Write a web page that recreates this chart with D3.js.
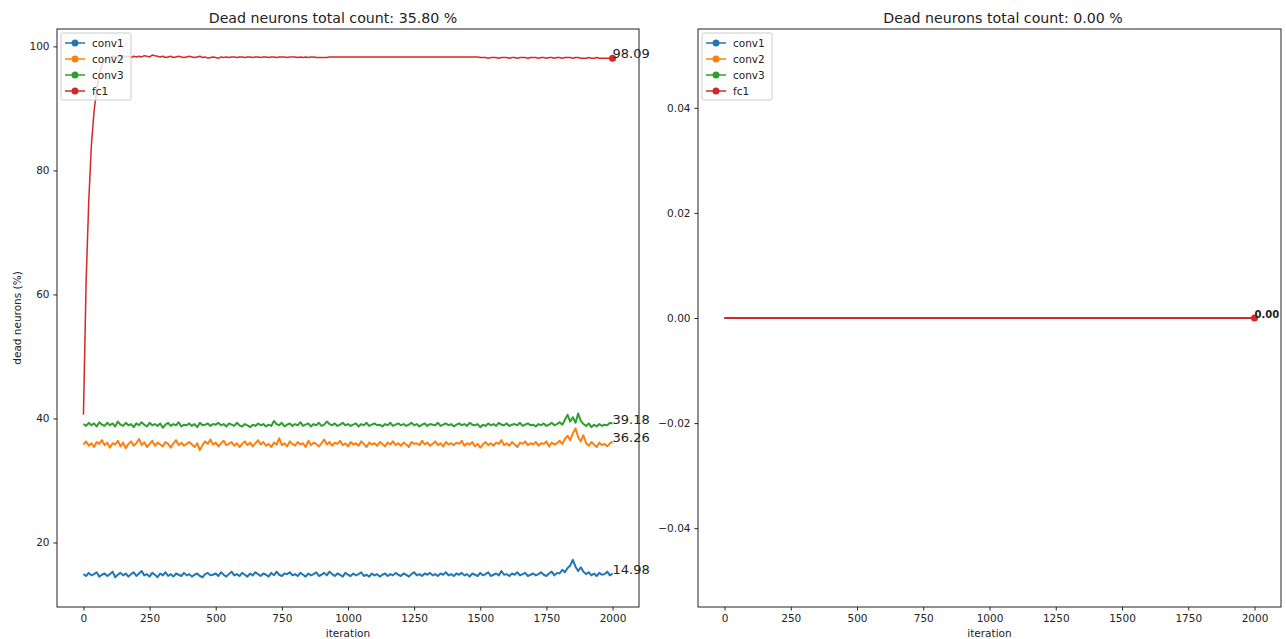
<!DOCTYPE html>
<html>
<head>
<meta charset="utf-8">
<script src="https://cdn.jsdelivr.net/npm/d3@7"></script>
<style>
  html, body { margin: 0; padding: 0; background: #fff; }
  svg { display: block; font-family: "DejaVu Sans", sans-serif; }
</style>
</head>
<body>
<svg id="chart" width="1286" height="639"></svg>
<script>
// Sampled iterations (every 10 steps) for the first run
const iterations = d3.range(0, 2001, 10);

const conv1 = [
  14.9, 14.6, 15.1, 14.7, 14.9, 15.2, 14.5, 14.8, 15.0, 14.6,
  14.9, 15.3, 14.4, 14.8, 15.1, 14.7, 15.0, 14.5, 14.9, 15.2,
  14.6, 15.0, 15.4, 14.7, 14.9, 14.5, 15.1, 14.8, 14.4, 15.0,
  14.7, 15.2, 14.6, 14.9, 14.5, 15.0, 14.8, 14.6, 15.1, 14.7,
  14.9, 14.5, 14.8, 15.0, 14.6, 14.4, 14.9, 15.1, 14.7, 14.8,
  15.0, 14.6, 15.2, 14.8, 14.5, 14.9, 15.3, 14.7, 14.9, 14.6,
  15.1, 14.8, 14.5, 15.0, 14.7, 15.2, 14.9, 14.6, 15.0, 14.8,
  14.5, 15.1, 14.7, 15.3, 14.8, 14.6, 15.0, 14.9, 15.2, 14.7,
  14.9, 14.6, 15.1, 14.8, 14.5, 15.0, 14.7, 14.9, 15.2, 14.6,
  14.8, 15.1, 14.7, 15.3, 14.9, 14.6, 15.0, 14.8, 14.5, 15.1,
  14.8, 14.6, 15.0, 14.7, 14.9, 15.2, 14.6, 14.8, 14.5, 15.0,
  14.7, 14.9, 14.5, 14.8, 15.0, 14.6, 14.9, 14.7, 15.1, 14.8,
  14.6, 15.0, 14.8, 14.5, 14.9, 15.2, 14.7, 14.9, 14.6, 15.0,
  14.8, 15.1, 14.7, 14.9, 14.6, 15.0, 14.8, 15.2, 14.7, 14.9,
  14.6, 15.0, 14.8, 15.1, 14.7, 14.9, 14.5, 15.0, 14.8, 14.6,
  15.1, 14.7, 14.9, 15.2, 14.6, 14.8, 15.0, 14.7, 15.4, 14.8,
  14.9, 14.6, 15.0, 14.8, 15.2, 14.7, 14.9, 15.1, 14.6, 14.8,
  15.0, 14.7, 14.9, 15.2, 14.8, 14.6, 15.0, 15.3, 14.7, 15.1,
  15.0, 15.6, 15.2, 15.9, 16.3, 17.2, 16.1, 15.4, 16.0, 15.3,
  14.9, 15.2, 14.7, 15.0, 14.6, 15.1, 14.8, 14.9, 15.3, 14.7,
  14.98
];

const conv2 = [
  35.8, 36.3, 35.6, 36.0, 35.4, 36.2, 35.9, 36.5, 35.7, 36.1,
  35.3, 36.0, 35.8, 36.4, 35.5, 36.1, 35.2, 35.9, 36.3, 35.6,
  36.0, 36.7, 35.7, 36.2, 35.4, 35.9, 36.4, 35.6, 36.1, 35.8,
  35.5, 36.2, 35.9, 35.3, 36.0, 36.5, 35.7, 36.1, 35.6, 35.9,
  36.2, 35.8, 35.4, 36.0, 34.9, 35.7, 36.3, 35.9, 36.6, 35.8,
  36.1, 35.5, 36.0, 36.4, 35.7, 35.9, 36.2, 35.6, 36.0, 35.4,
  35.9, 36.3, 35.7, 36.1, 35.5, 36.0, 36.5, 35.8, 36.2, 35.6,
  35.9, 35.4, 36.1, 35.8, 36.8, 35.7, 36.0, 35.5, 36.3, 35.9,
  35.6, 36.2, 35.8, 36.0, 35.4, 36.4, 35.7, 36.1, 35.9, 35.5,
  36.0, 36.6, 35.8, 36.2, 35.6, 36.1, 35.9, 36.4, 35.7, 36.0,
  35.5, 36.2, 35.8, 36.0, 35.6, 36.3, 35.9, 35.4, 36.1, 35.8,
  36.0, 35.6, 36.2, 35.9, 35.5, 36.1, 35.8, 36.3, 35.7, 36.0,
  35.6, 36.1, 35.8, 35.4, 36.2, 35.9, 36.0, 35.7, 36.4, 35.8,
  36.1, 35.6, 35.9, 36.3, 35.7, 36.0, 35.5, 36.2, 35.8, 36.0,
  35.7, 36.1, 35.9, 36.4, 35.6, 36.0, 35.8, 36.2, 35.5, 35.9,
  35.3, 35.8, 36.2, 35.7, 36.0, 35.6, 36.1, 35.9, 36.5, 35.7,
  36.0, 35.6, 36.2, 35.8, 35.4, 36.1, 35.9, 36.3, 35.7, 36.0,
  35.8, 36.2, 35.6, 36.0, 35.9, 36.3, 35.5, 36.1, 35.8, 36.0,
  36.4, 35.9, 36.7, 37.2, 36.5, 37.6, 38.4, 37.0, 36.3, 37.3,
  36.0, 35.6, 36.2, 35.8, 35.4, 36.1, 35.7, 35.9, 35.5, 36.0,
  36.26
];

const conv3 = [
  39.1, 38.8, 39.3, 38.9, 39.2, 38.7, 39.4, 39.0, 38.8, 39.3,
  38.9, 39.2, 38.7, 39.5, 39.0, 38.8, 39.3, 38.9, 39.1, 38.6,
  39.2, 38.9, 39.4, 39.0, 38.7, 39.3, 38.9, 39.1, 38.8, 39.2,
  38.5, 39.0, 39.3, 38.8, 39.1, 38.9, 39.4, 38.7, 39.0, 38.9,
  39.2, 38.8, 39.1, 38.6, 39.3, 38.9, 39.0, 39.2, 38.8, 39.1,
  39.0, 39.3, 38.9, 39.1, 38.7, 39.2, 39.0, 38.8, 39.3, 38.9,
  38.7, 39.1, 38.9, 38.6, 39.0, 38.8, 39.2, 38.9, 39.1, 38.7,
  39.0, 38.8, 39.6, 39.1, 38.9, 39.3, 38.7, 39.0, 39.2, 38.8,
  39.1, 38.9, 39.4, 38.8, 39.0, 39.2, 38.7, 39.1, 38.9, 39.3,
  38.8, 39.0, 39.5, 39.1, 38.9, 39.2, 38.8, 39.0, 39.3, 38.9,
  39.1, 38.8, 39.0, 39.2, 38.7, 39.1, 38.9, 39.3, 38.8, 39.0,
  39.2, 38.9, 39.0, 38.7, 39.1, 38.9, 39.3, 38.8, 39.0, 39.2,
  38.9, 39.1, 38.8, 39.0, 39.3, 38.9, 39.1, 38.7, 39.0, 39.2,
  38.8, 39.1, 39.0, 38.9, 39.3, 38.8, 39.0, 39.2, 38.9, 39.1,
  38.7, 39.0, 39.2, 38.9, 39.1, 38.8, 39.3, 39.0, 38.9, 39.1,
  38.6, 39.0, 38.8, 39.2, 38.9, 39.1, 38.8, 39.3, 39.0, 38.9,
  39.2, 38.8, 39.0, 39.1, 38.9, 39.3, 38.8, 39.0, 39.2, 38.9,
  39.0, 38.7, 39.1, 38.9, 39.2, 38.8, 39.0, 39.3, 38.9, 39.1,
  39.4, 39.0, 39.8, 40.6, 39.5, 40.2, 39.3, 40.8, 39.6, 39.1,
  38.8, 39.2, 38.6, 39.0, 38.7, 39.1, 38.8, 39.0, 38.9, 39.3,
  39.18
];

const fc1 = [
  40.6, 62.0, 75.0, 84.0, 89.5, 93.0, 95.5, 97.0, 97.8, 98.2,
  98.3, 98.4, 98.2, 98.4, 98.3, 98.5, 98.3, 98.4, 98.2, 98.4,
  98.3, 98.4, 98.3, 98.5, 98.4, 98.3, 98.6, 98.5, 98.4, 98.3,
  98.4, 98.2, 98.3, 98.4, 98.2, 98.3, 98.4, 98.3, 98.2, 98.3,
  98.4, 98.3, 98.2, 98.3, 98.4, 98.2, 98.3, 98.1, 98.2, 98.3,
  98.2, 98.1, 98.3, 98.2, 98.3, 98.2, 98.3, 98.3, 98.2, 98.3,
  98.3, 98.2, 98.3, 98.3, 98.2, 98.3, 98.3, 98.2, 98.3, 98.3,
  98.2, 98.3, 98.3, 98.2, 98.3, 98.3, 98.3, 98.2, 98.3, 98.3,
  98.3, 98.2, 98.3, 98.2, 98.3, 98.2, 98.3, 98.3, 98.2, 98.2,
  98.2, 98.2, 98.2, 98.3, 98.3, 98.3, 98.3, 98.3, 98.3, 98.3,
  98.3, 98.3, 98.3, 98.3, 98.3, 98.3, 98.3, 98.3, 98.3, 98.3,
  98.3, 98.3, 98.3, 98.3, 98.3, 98.3, 98.3, 98.3, 98.3, 98.3,
  98.3, 98.3, 98.3, 98.3, 98.3, 98.3, 98.3, 98.3, 98.3, 98.3,
  98.3, 98.3, 98.3, 98.3, 98.3, 98.3, 98.3, 98.3, 98.3, 98.3,
  98.3, 98.3, 98.3, 98.3, 98.3, 98.3, 98.3, 98.3, 98.3, 98.3,
  98.2, 98.2, 98.2, 98.1, 98.2, 98.2, 98.2, 98.1, 98.2, 98.2,
  98.2, 98.1, 98.2, 98.2, 98.1, 98.2, 98.2, 98.2, 98.1, 98.2,
  98.2, 98.2, 98.1, 98.2, 98.2, 98.1, 98.2, 98.2, 98.1, 98.2,
  98.2, 98.1, 98.2, 98.2, 98.2, 98.1, 98.2, 98.2, 98.1, 98.1,
  98.1, 98.2, 98.1, 98.1, 98.2, 98.1, 98.1, 98.1, 98.1, 98.1,
  98.09
];

// Second run: every layer stays at zero
const iterationsB = [0, 500, 1000, 1500, 2000];
const conv1B = [0, 0, 0, 0, 0];
const conv2B = [0, 0, 0, 0, 0];
const conv3B = [0, 0, 0, 0, 0];
const fc1B   = [0, 0, 0, 0, 0];

const layerNames = ["conv1", "conv2", "conv3", "fc1"];
const layerColors = ["#1f77b4", "#ff7f0e", "#2ca02c", "#d62728"];
const xTicks = [0, 250, 500, 750, 1000, 1250, 1500, 1750, 2000];
const yTicksA = [20, 40, 60, 80, 100];
const yTicksB = [-0.04, -0.02, 0.00, 0.02, 0.04];
const totalA = 35.80;
const totalB = 0.00;

const svg = d3.select("#chart");

function drawPanel(opt) {
  const g = svg.append("g");
  const x = d3.scaleLinear().domain([-100, 2100]).range([opt.left, opt.right]);
  const y = d3.scaleLinear().domain(opt.yDomain).range([opt.bottom, opt.top]);

  // axes
  const xAxis = d3.axisBottom(x).tickValues(xTicks).tickSize(3.5).tickPadding(4)
    .tickFormat(d3.format("d"));
  const yAxis = d3.axisLeft(y).tickValues(opt.yTicks).tickSize(3.5).tickPadding(4)
    .tickFormat(opt.yFormat);

  const gx = g.append("g").attr("transform", `translate(0,${opt.bottom})`).call(xAxis);
  const gy = g.append("g").attr("transform", `translate(${opt.left},0)`).call(yAxis);
  [gx, gy].forEach(a => {
    a.select(".domain").remove();
    a.selectAll("text").attr("font-size", 10.5).attr("fill", "#222")
      .attr("font-family", "DejaVu Sans, sans-serif");
    a.selectAll("line").attr("stroke", "#222");
  });

  // lines
  const line = d3.line().x(d => x(d[0])).y(d => y(d[1]));
  opt.series.forEach((vals, i) => {
    const pts = opt.iters.map((it, k) => [it, vals[k]]);
    g.append("path").datum(pts)
      .attr("fill", "none")
      .attr("stroke", layerColors[i])
      .attr("stroke-width", opt.widths[i])
      .attr("stroke-linejoin", "round")
      .attr("d", line);
  });

  // end marker and labels
  opt.series.forEach((vals, i) => {
    const lastIt = opt.iters[opt.iters.length - 1];
    const lastV = vals[vals.length - 1];
    if (i === opt.series.length - 1) {
      g.append("circle").attr("cx", x(lastIt)).attr("cy", y(lastV)).attr("r", 3.5)
        .attr("fill", layerColors[i]);
    }
    if (opt.labelAll || i === opt.series.length - 1) {
      g.append("text").attr("x", x(lastIt)).attr("y", y(lastV))
        .attr("font-size", opt.labelSize).attr("font-weight", opt.labelWeight)
        .attr("fill", "#222")
        .text(lastV.toFixed(2));
    }
  });

  // frame
  g.append("rect").attr("x", opt.left).attr("y", opt.top)
    .attr("width", opt.right - opt.left).attr("height", opt.bottom - opt.top)
    .attr("fill", "none").attr("stroke", "#222").attr("stroke-width", 1);

  // title and axis labels
  g.append("text").attr("x", opt.titleX).attr("y", 23).attr("text-anchor", "middle")
    .attr("font-size", 14.2).attr("fill", "#222").text(opt.title);
  g.append("text").attr("x", (opt.left + opt.right) / 2).attr("y", 637)
    .attr("text-anchor", "middle").attr("font-size", 10.5).attr("fill", "#222")
    .text("iteration");
  if (opt.yLabel) {
    g.append("text").attr("transform", `translate(21,${(opt.top + opt.bottom) / 2}) rotate(-90)`)
      .attr("text-anchor", "middle").attr("font-size", 10.5).attr("fill", "#222")
      .text(opt.yLabel);
  }

  // legend
  const lg = g.append("g").attr("transform", `translate(${opt.left + 4},${opt.top + 4})`);
  lg.append("rect").attr("x", 0).attr("y", 0).attr("width", 70).attr("height", 67)
    .attr("rx", 2).attr("fill", "#fff").attr("fill-opacity", 0.8)
    .attr("stroke", "#ccc").attr("stroke-width", 1);
  layerNames.forEach((name, i) => {
    const cy = 10 + i * 16;
    lg.append("line").attr("x1", 4).attr("x2", 24).attr("y1", cy).attr("y2", cy)
      .attr("stroke", layerColors[i]).attr("stroke-width", 1.5);
    lg.append("circle").attr("cx", 14).attr("cy", cy).attr("r", 3.5).attr("fill", layerColors[i]);
    lg.append("text").attr("x", 31).attr("y", cy + 4).attr("font-size", 10.5)
      .attr("fill", "#222").text(name);
  });
}

drawPanel({
  left: 57, right: 639, top: 29, bottom: 607,
  yDomain: [9.6, 102.8], yTicks: yTicksA, yFormat: d3.format("d"),
  iters: iterations, series: [conv1, conv2, conv3, fc1], widths: [2, 2, 2, 1.5],
  title: `Dead neurons total count: ${totalA.toFixed(2)} %`, titleX: 333,
  yLabel: "dead neurons (%)", labelAll: true, labelSize: 13, labelWeight: "normal"
});

drawPanel({
  left: 698, right: 1281, top: 29, bottom: 607,
  yDomain: [-0.055, 0.055], yTicks: yTicksB, yFormat: d3.format(".2f"),
  iters: iterationsB, series: [conv1B, conv2B, conv3B, fc1B], widths: [2, 2, 2, 2],
  title: `Dead neurons total count: ${totalB.toFixed(2)} %`, titleX: 1003,
  yLabel: null, labelAll: false, labelSize: 10, labelWeight: "bold"
});
</script>
</body>
</html>
